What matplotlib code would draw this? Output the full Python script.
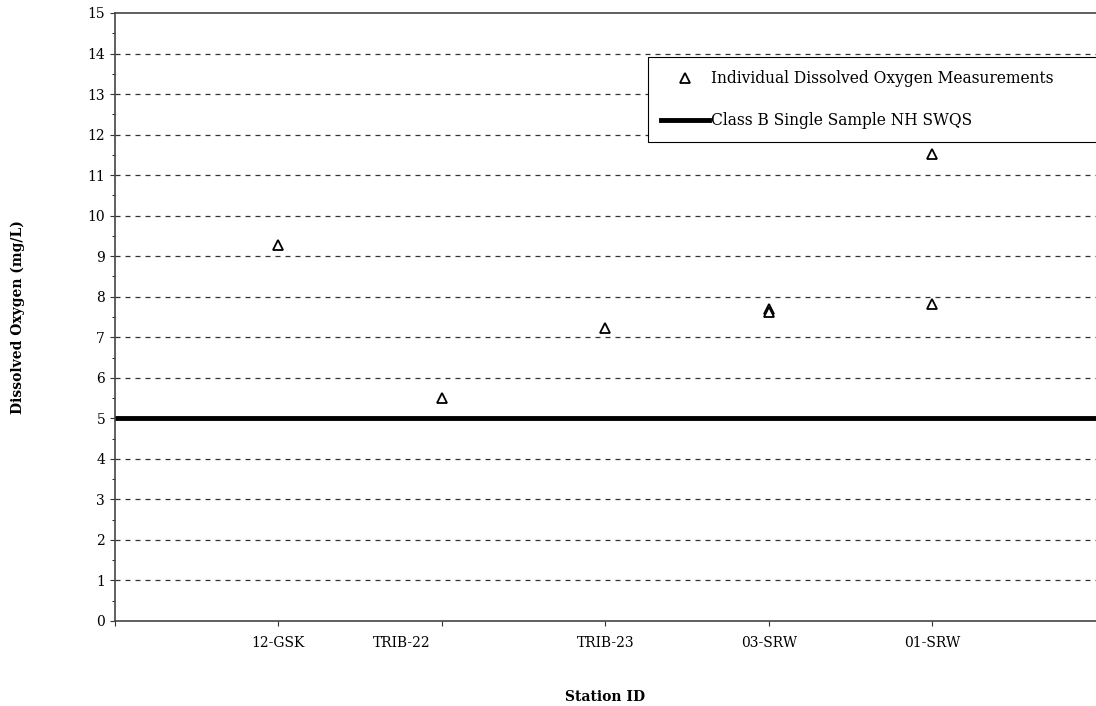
import matplotlib.pyplot as plt
import matplotlib.transforms as mtransforms
import numpy as np

plt.rcParams['font.family'] = ['DejaVu Serif']

# stations along the x axis
stations = ['12-GSK', 'TRIB-22', 'TRIB-23', '03-SRW', '01-SRW']

# individual DO measurements (station index, mg/L)
meas_station = [1, 2, 3, 4, 4, 5, 5]
meas_do = [9.28, 5.5, 7.23, 7.7, 7.62, 11.52, 7.82]

# standard
swqs_x = [0, 6]
swqs_y = [5, 5]

fig = plt.figure(figsize=(10.96, 7.06), dpi=100)
ax = fig.add_axes([0.1049, 0.1204, 0.8951, 0.8612])

# dashed gridlines at whole numbers
for yv in range(1, 15):
    ax.axhline(yv, color='#333333', linestyle=(0, (4, 4)), linewidth=0.9, zorder=1)

ax.plot(meas_station, meas_do, linestyle='none', marker='^', markersize=7,
        markerfacecolor='white', markeredgecolor='black', markeredgewidth=1.3,
        label='Individual Dissolved Oxygen Measurements', zorder=3)
ax.plot(swqs_x, swqs_y, color='black', linewidth=3.5,
        label='Class B Single Sample NH SWQS', zorder=2)

ax.set_xlim(0, 6)
ax.set_ylim(0, 15)
ax.set_yticks(np.arange(0, 16, 1))
ax.set_yticks(np.arange(0, 15.5, 0.5), minor=True)
ax.set_xticks(np.arange(0, 6, 1))
ax.set_xticklabels([''] + stations)
ax.tick_params(axis='both', labelsize=10, color='#333333')
ax.tick_params(axis='x', pad=7)

# TRIB-22 label sits left of its tick in the original
shift = mtransforms.ScaledTranslation(-0.40, 0, fig.dpi_scale_trans)
lbl = ax.get_xticklabels()[2]
lbl.set_transform(lbl.get_transform() + shift)

for s in ['left', 'bottom', 'top']:
    ax.spines[s].set_color('#444444')
    ax.spines[s].set_linewidth(1.2)
ax.spines['right'].set_visible(False)

fig.text(18 / 1096, 1 - 317 / 706, 'Dissolved Oxygen (mg/L)', rotation=90,
         ha='center', va='center', fontsize=10, fontweight='bold')
fig.text(605 / 1096, 1 - 697 / 706, 'Station ID', ha='center', va='center',
         fontsize=10, fontweight='bold')

leg = ax.legend(loc='upper left', bbox_to_anchor=(0.5433, 0.9276, 0.462, 0.0),
                mode='expand', fontsize=11.2,
                frameon=True, fancybox=False, edgecolor='black', framealpha=1,
                borderpad=0.85, labelspacing=1.6, handlelength=3.1, handletextpad=0.1,
                borderaxespad=0)
leg.get_frame().set_linewidth(0.8)

plt.savefig('out.png', dpi=100)
